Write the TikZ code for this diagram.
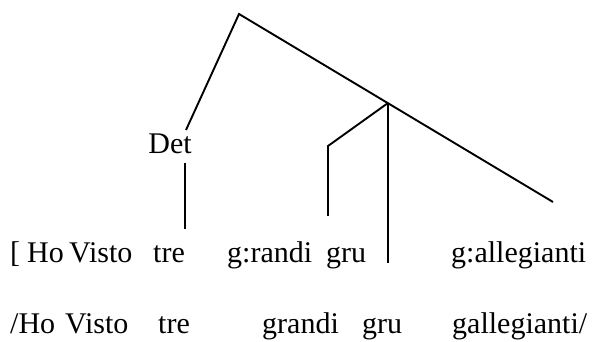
\documentclass[tikz,border=0pt]{standalone}
\usepackage{fontspec}
\setmainfont{Liberation Serif}
\begin{document}
\begin{tikzpicture}[x=1pt,y=-1pt,
  every node/.style={inner sep=0pt, font=\fontsize{30}{36}\selectfont},
  word/.style={anchor=base west},
  branch/.style={line width=1.9pt}]
\useasboundingbox (0,0) rectangle (598,342);
% tree points
\coordinate (apex) at (239,14);
\coordinate (dettop) at (186,130);
\coordinate (rightend) at (553,202);
\coordinate (mid) at (388,103);
\coordinate (midbot) at (388,263);
\coordinate (adjcorner) at (328,146);
\coordinate (adjbot) at (328,216);
\coordinate (detlinetop) at (185,163);
\coordinate (detlinebot) at (185,229);
% labels
\node[anchor=base] (det) at (170,154) {Det};
% line 1
\node[word] (lb) at (10,263) {[};
\node[word] (ho1) at (27,263) {Ho};
\node[word] (visto1) at (69,263) {Visto};
\node[word] (tre1) at (153,263) {tre};
\node[word] (grandi1) at (227,263) {g:randi};
\node[word] (gru1) at (326,263) {gru};
\node[word] (gall1) at (451,263) {g:allegianti};
% line 2
\node[word] (ho2) at (10,334) {/Ho};
\node[word] (visto2) at (65,334) {Visto};
\node[word] (tre2) at (158,334) {tre};
\node[word] (grandi2) at (262,334) {grandi};
\node[word] (gru2) at (362,334) {gru};
\node[word] (gall2) at (452,334) {gallegianti/};
% branches
\draw[branch] (dettop) -- (apex) -- (rightend);
\draw[branch] (mid) -- (midbot);
\draw[branch] (mid) -- (adjcorner) -- (adjbot);
\draw[branch] (detlinetop) -- (detlinebot);
\end{tikzpicture}
\end{document}
